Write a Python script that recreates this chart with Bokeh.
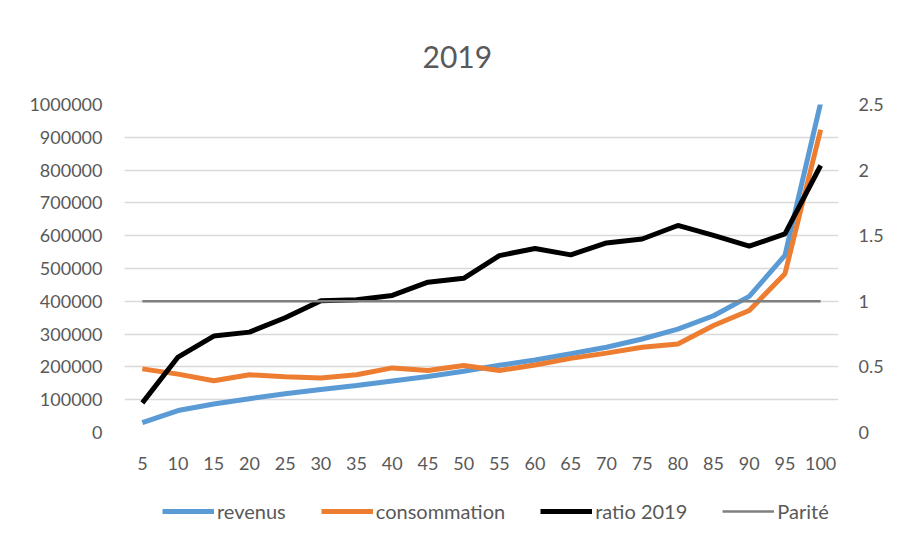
from bokeh.plotting import figure
from bokeh.models import (Range1d, LinearAxis, FixedTicker, NumeralTickFormatter,
                          Legend, LegendItem, FactorRange)
from bokeh.layouts import column
from bokeh.embed import file_html
from bokeh.resources import INLINE

categories = ["5", "10", "15", "20", "25", "30", "35", "40", "45", "50",
              "55", "60", "65", "70", "75", "80", "85", "90", "95", "100"]
revenus = [30000, 67000, 87000, 103000, 118000, 131000, 143000, 157000, 171000, 187000,
           205000, 221000, 240000, 260000, 285000, 315000, 356000, 415000, 540000, 1005000]
consommation = [194000, 178000, 158000, 176000, 170000, 166000, 176000, 197000, 189000, 204000,
                189000, 206000, 226000, 242000, 260000, 270000, 326000, 372000, 484000, 923000]
ratio_2019 = [0.226, 0.575, 0.735, 0.765, 0.875, 1.005, 1.012, 1.045, 1.146, 1.175,
              1.348, 1.403, 1.354, 1.445, 1.475, 1.578, 1.502, 1.42, 1.514, 2.035]
parite = [1.0] * 20

left_ticks = [0, 100000, 200000, 300000, 400000, 500000, 600000, 700000, 800000, 900000, 1000000]
right_ticks = [0, 0.5, 1, 1.5, 2, 2.5]
series_names = ["revenus", "consommation", "ratio 2019", "Parité"]
series_values = [revenus, consommation, ratio_2019, parite]
series_colors = ["#5B9BD5", "#ED7D31", "#000000", "#7F7F7F"]
series_widths = [5, 5, 5, 2.5]
series_axis = ["default", "default", "ratio", "ratio"]

FONT = "Lato"
TXT = "#595959"

p = figure(width=889, height=490, x_range=FactorRange(*categories),
           y_range=Range1d(0, 1000000), output_backend="svg", toolbar_location=None,
           min_border_left=124, min_border_right=51, min_border_top=104, min_border_bottom=58)
p.extra_y_ranges = {"ratio": Range1d(0, 2.5)}

p.title.text = "2019"
p.title.align = "left"
p.title.offset = 298
p.title.standoff = 73
p.title.text_font = FONT
p.title.text_font_size = "30px"
p.title.text_font_style = "normal"
p.title.text_color = TXT

p.outline_line_color = None
p.xgrid.grid_line_color = None
p.ygrid.grid_line_color = "#D9D9D9"
p.ygrid.grid_line_width = 1.5
p.yaxis.ticker = FixedTicker(ticks=left_ticks)
p.yaxis.formatter = NumeralTickFormatter(format="0")

right = LinearAxis(y_range_name="ratio", ticker=FixedTicker(ticks=right_ticks),
                   formatter=NumeralTickFormatter(format="0.[0]"))
p.add_layout(right, "right")

for ax, so in [(p.xaxis[0], 18), (p.yaxis[0], 16), (right, 14)]:
    ax.axis_line_color = None
    ax.major_tick_line_color = None
    ax.minor_tick_line_color = None
    ax.major_label_text_font = FONT
    ax.major_label_text_font_size = "18px"
    ax.major_label_text_color = TXT
    ax.major_label_standoff = so

for vals, col, w, rng in zip(series_values, series_colors, series_widths, series_axis):
    p.line(categories, vals, line_color=col, line_width=w, y_range_name=rng)

# legend strip below the chart (its lines lie outside its own view, only the key shows)
leg = figure(width=889, height=44, output_backend="svg", toolbar_location=None,
             x_range=FactorRange(*categories), y_range=Range1d(-2, -1),
             x_axis_location=None, y_axis_location=None, min_border=0)
leg.outline_line_color = None
leg.xgrid.grid_line_color = None
leg.ygrid.grid_line_color = None
items = []
for name, vals, col, w in zip(series_names, series_values, series_colors, series_widths):
    r = leg.line(categories, vals, line_color=col, line_width=w)
    items.append(LegendItem(label=name, renderers=[r]))
legend = Legend(items=items, orientation="horizontal", location=(38, 11),
                label_text_font=FONT, label_text_font_size="20px", label_text_color=TXT,
                glyph_width=52, label_standoff=3, spacing=35, padding=6,
                border_line_color=None, background_fill_alpha=0)
leg.add_layout(legend, "center")

open("out.html", "w").write(file_html(column(p, leg, spacing=0), INLINE))
